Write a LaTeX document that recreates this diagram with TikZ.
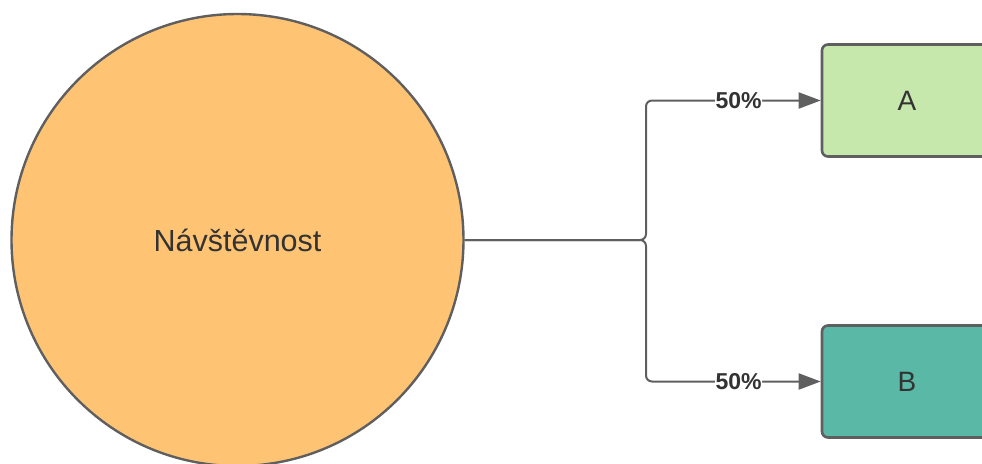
\documentclass[tikz,border=0pt]{standalone}
\usepackage{fontspec}
\setmainfont{Liberation Sans}
\usetikzlibrary{arrows.meta}
\definecolor{linegray}{HTML}{5F5F5F}
\definecolor{txtgray}{HTML}{333333}
\definecolor{circfill}{HTML}{FEC373}
\definecolor{afill}{HTML}{C7E8AC}
\definecolor{bfill}{HTML}{5AB9A6}
\tikzset{
  boxnode/.style={draw=linegray, line width=2.6pt, rounded corners=6pt, minimum width=170pt, minimum height=112pt, inner sep=0pt, text=txtgray, font=\fontsize{28}{32}\selectfont},
  conn/.style={draw=linegray, line width=2pt, rounded corners=6pt, -{Triangle[length=22pt,width=16pt]}},
  pct/.style={fill=white, inner sep=0.5pt, text=txtgray, font=\bfseries\fontsize{23}{26}\selectfont}
}
\begin{document}
\begin{tikzpicture}[x=1pt,y=-1pt]
\useasboundingbox (0,0) rectangle (982,463);
\clip (0,0) rectangle (982,463);
\node[circle, draw=linegray, line width=2.4pt, fill=circfill, minimum size=452pt, inner sep=0pt, text=txtgray, font=\fontsize{30.5}{34}\selectfont] (c) at (237.5,240) {Návštěvnost};
\node[boxnode, fill=afill] (a) at (907,100.5) {A};
\node[boxnode, fill=bfill] (b) at (907,381.5) {B};
\coordinate (j) at (646,240);
\draw[conn] (c.east) -- (j) -- (j |- a.west) -- (a.west) node[pct, pos=0.53] {50\%};
\draw[conn] (c.east) -- (j) -- (j |- b.west) -- (b.west) node[pct, pos=0.53] {50\%};
\end{tikzpicture}
\end{document}
